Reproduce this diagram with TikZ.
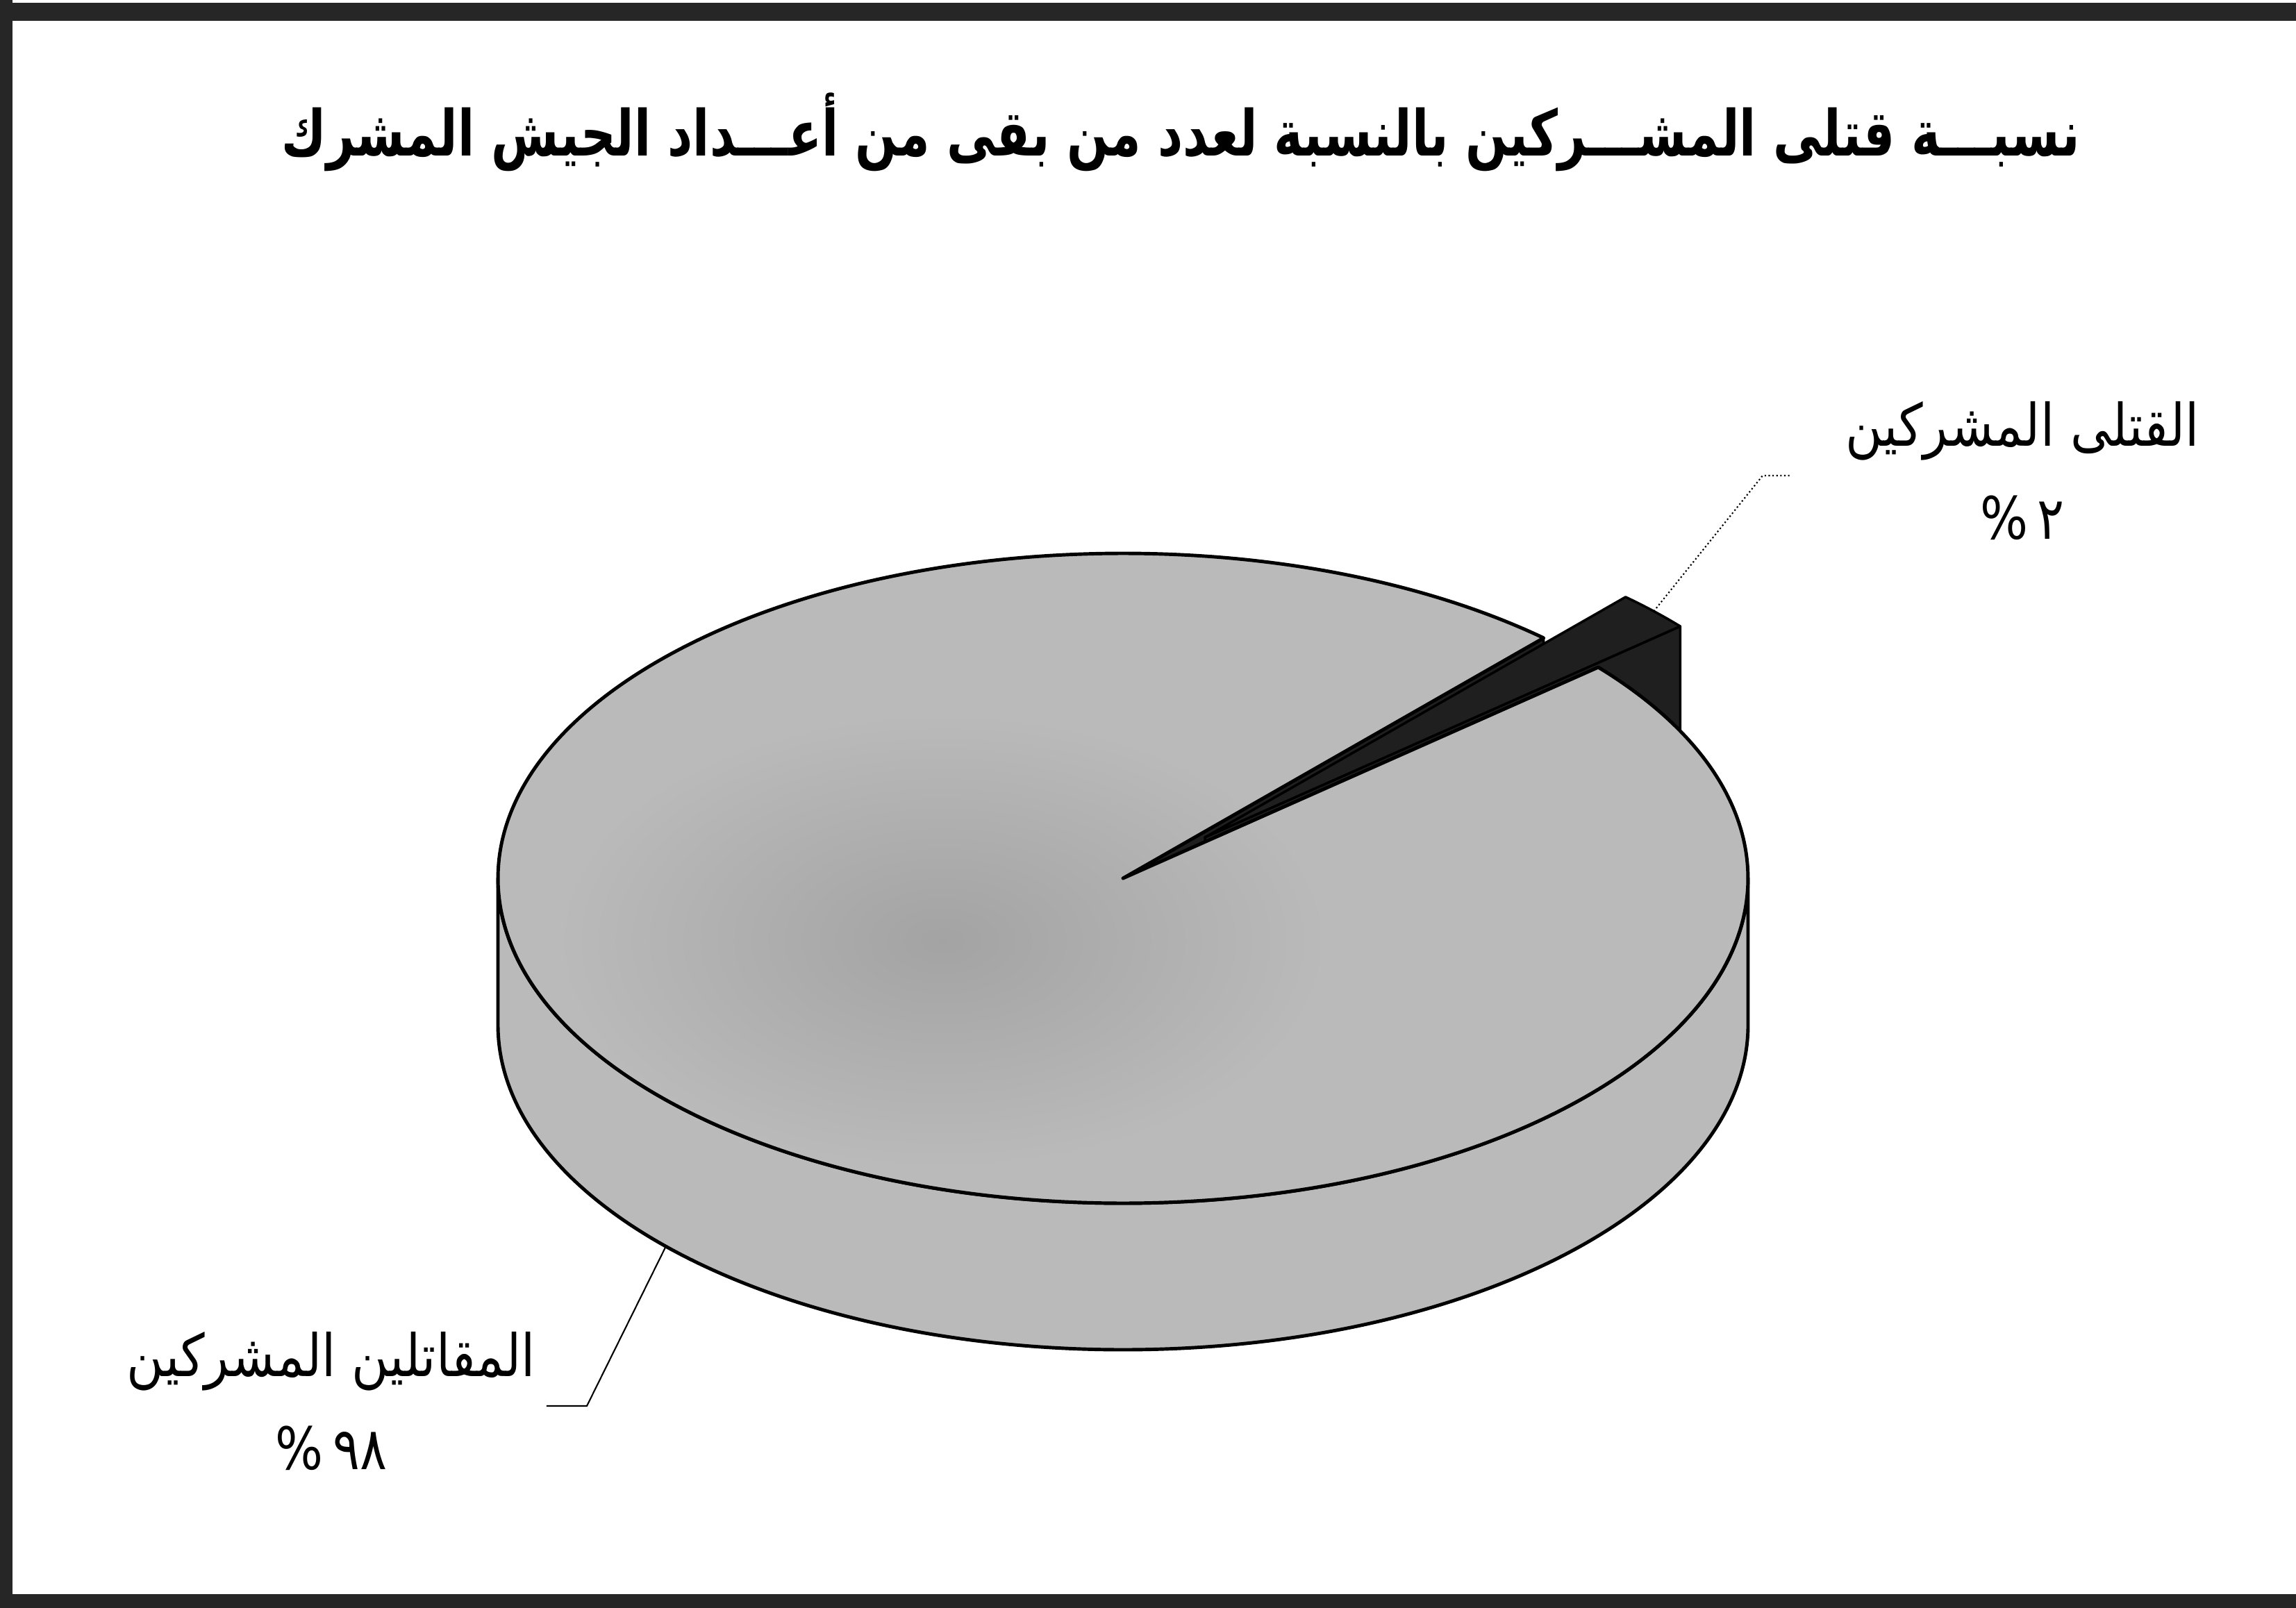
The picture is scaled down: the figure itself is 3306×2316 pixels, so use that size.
\documentclass[tikz,border=0pt]{standalone}
\usepackage{fontspec}
\TeXXeTstate=1
\newfontfamily\titlefont[Script=Arabic,FakeStretch=0.77]{DejaVu Sans}
\newfontfamily\labelfont[Script=Arabic,FakeStretch=0.86]{DejaVu Sans}
\usetikzlibrary{positioning}

\tikzset{
  piece/.style={fill=black!27, draw=black, line width=1.4pt, line join=round},
  slice/.style={fill=black!88, draw=black, line width=1pt, line join=round},
  leader/.style={draw=black, line width=0.6pt},
  lbl/.style={font=\labelfont\fontsize{24}{38}\selectfont, align=center},
}

\begin{document}
\begin{tikzpicture}[x=0.01cm,y=-0.01cm]
  \useasboundingbox (0,0) rectangle (3306,2316);
  % scanned frame
  \fill[black!85] (0,4) rectangle (3306,30);
  \fill[black!85] (0,2296) rectangle (3306,2316);
  \fill[black!85] (0,0) rectangle (18,2316);

  % pie: big piece 98%, exploded slice 2%
  \begin{scope}[shift={(1617,1265)},yscale=-1]
    \draw[piece] (180:900 and 468) arc[start angle=180,end angle=360,x radius=900,y radius=468]
      -- ++(0,-211) arc[start angle=360,end angle=180,x radius=900,y radius=468] -- cycle;
    \draw[slice] (0,0) -- (47.7:900 and 468) -- ++(0,-211) -- (0,-211) -- cycle;
    \begin{scope}[shift={(118,59)}]
      \draw[slice] (0,0) -- (40.5:900 and 468) -- ++(0,-211) -- (0,-211) -- cycle;
      \draw[slice] (0,0) -- (40.5:900 and 468)
        arc[start angle=40.5,end angle=47.7,x radius=900,y radius=468] -- cycle;
      \coordinate (sliceMid) at (44.1:900 and 468);
    \end{scope}
    \fill[black!27] (0,0) -- (47.7:900 and 468)
      arc[start angle=47.7,end angle=400.5,x radius=900,y radius=468] -- cycle;
    \begin{scope}
      \clip (0,0) -- (47.7:900 and 468)
        arc[start angle=47.7,end angle=400.5,x radius=900,y radius=468] -- cycle;
      \shade[inner color=black!36, outer color=black!27] (-260,-90) ellipse (560 and 330);
    \end{scope}
    \draw[piece, fill=none] (0,0) -- (47.7:900 and 468)
      arc[start angle=47.7,end angle=400.5,x radius=900,y radius=468] -- cycle;
    \path (0,-211) ++(223:900 and 468) coordinate (bigRim);
  \end{scope}

  \node[font=\titlefont\bfseries\fontsize{26}{30}\selectfont] (title) at (1700,190)
    {\beginR نسبـــة قتلى المشـــركين بالنسبة لعدد من بقى من أعـــداد الجيش المشرك\endR};
  \node[lbl, inner xsep=0.8cm] (killLbl) at (2912,678)
    {\beginR القتلى المشركين\endR\\\beginR ٢\,\%\endR};
  \node[lbl, inner xsep=0.15cm] (fightLbl) at (477,2018)
    {\beginR المقاتلين المشركين\endR\\\beginR ٩٨\,\%\endR};

  \coordinate (topBend) at (2538,685);
  \coordinate (lowBend) at (845,2025);
  \draw[leader, densely dotted] (sliceMid) -- (topBend) -- (killLbl.west |- topBend);
  \draw[leader] (bigRim) -- (lowBend) -- (fightLbl.east |- lowBend);
\end{tikzpicture}
\end{document}
